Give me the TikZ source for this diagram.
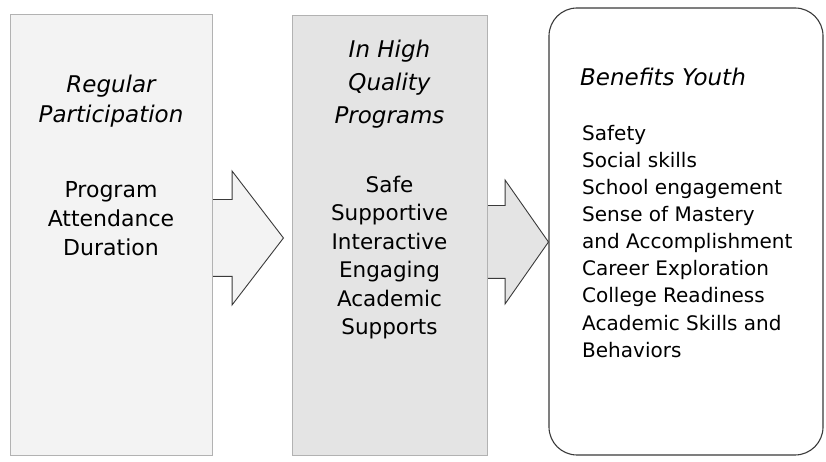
\documentclass[tikz,border=0pt]{standalone}
\usepackage{fontspec}
\setmainfont{DejaVu Sans}
\usepackage{tikz}
\usetikzlibrary{shapes.arrows, backgrounds}
\definecolor{scanline}{HTML}{3A3A3A}
\definecolor{texlight}{HTML}{F3F3F3}
\definecolor{texdark}{HTML}{E4E4E4}
\tikzset{
  stagebox/.style={draw=gray!60, thin, inner sep=0pt},
  benefitbox/.style={draw=scanline, line width=1.1pt, fill=white, rounded corners=28pt, inner sep=0pt},
  flowarrow/.style={single arrow, draw=scanline, line width=0.9pt, inner xsep=0pt, single arrow head indent=0pt},
  headtext/.style={font=\itshape, inner sep=0pt, align=center, anchor=north},
  listtext/.style={inner sep=0pt, align=center, anchor=north},
  itemtext/.style={inner sep=0pt, align=left, anchor=north west}
}

\begin{document}
\begin{tikzpicture}[x=1pt, y=1pt]
  \useasboundingbox (0,0) rectangle (826,462);

  \node[flowarrow, fill=texlight, inner ysep=38pt, minimum height=83pt, minimum width=133pt,
    single arrow head extend=28.5pt, single arrow tip angle=105, anchor=tail]
    (arrowa) at (200,224) {};
  \node[flowarrow, fill=texdark, inner ysep=36pt, minimum height=73pt, minimum width=123pt,
    single arrow head extend=25.5pt, single arrow tip angle=110, anchor=tail]
    (arrowb) at (475,220) {};

  \node[stagebox, fill=texlight, minimum width=202pt, minimum height=441pt]
    at (111,227.5) (part) {};
  \node[stagebox, fill=texdark, minimum width=195pt, minimum height=440pt]
    at (389.5,227) (quality) {};
  \node[benefitbox, minimum width=274pt, minimum height=447pt]
    at (686,230.5) (benefits) {};

  \node[headtext, font=\fontsize{23}{30}\selectfont\itshape] at (111,387.5) (parthead)
    {Regular\\Participation};
  \node[listtext, font=\fontsize{22}{29}\selectfont] at (111,281) (partlist)
    {Program\\Attendance\\Duration};

  \node[headtext, font=\fontsize{23}{33}\selectfont\itshape] at (389.5,422.5) (qualhead)
    {In High\\Quality\\Programs};
  \node[listtext, font=\fontsize{21.5}{28.5}\selectfont] at (389.5,286.3) (quallist)
    {Safe\\Supportive\\Interactive\\Engaging\\Academic\\Supports};

  \node[itemtext, font=\fontsize{23}{28}\selectfont\itshape] at (580,394.5) (benehead)
    {Benefits Youth};
  \node[itemtext, font=\fontsize{20}{27.1}\selectfont] at (582,337) (benelist)
    {Safety\\Social skills\\School engagement\\Sense of Mastery\\and Accomplishment\\
     Career Exploration\\College Readiness\\Academic Skills and\\Behaviors};
\end{tikzpicture}
\end{document}
